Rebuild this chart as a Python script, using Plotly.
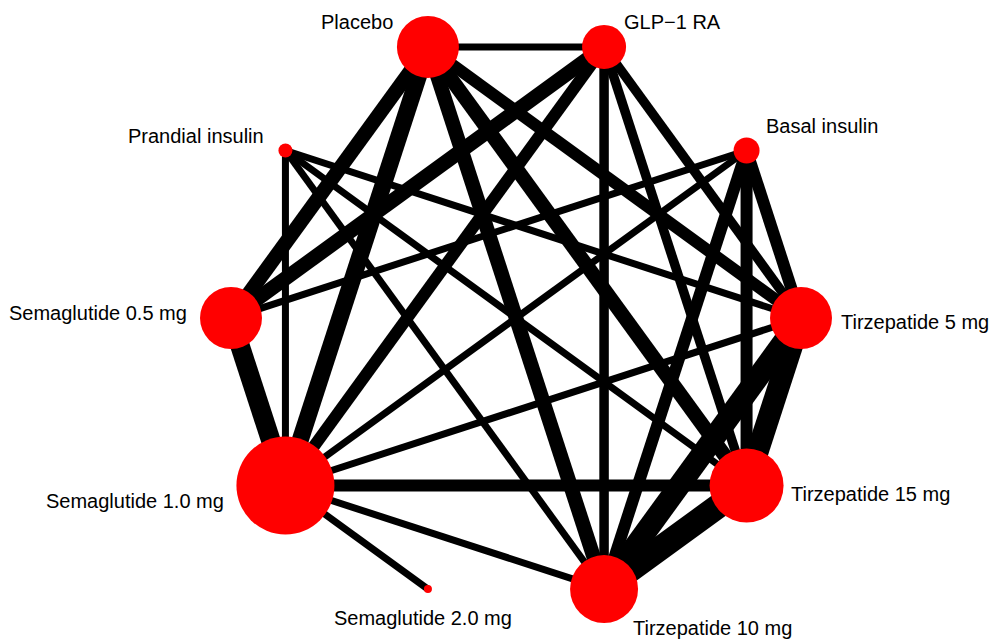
import math
import plotly.graph_objects as go

# Treatments, in order around the circle (starting at the top left, clockwise)
treatments = [
    "Placebo",
    "GLP\u22121 RA",
    "Basal insulin",
    "Tirzepatide 5 mg",
    "Tirzepatide 15 mg",
    "Tirzepatide 10 mg",
    "Semaglutide 2.0 mg",
    "Semaglutide 1.0 mg",
    "Semaglutide 0.5 mg",
    "Prandial insulin",
]

# Relative node weight (drives the point size)
node_weight = [3.1, 2.2, 1.3, 3.1, 3.7, 3.4, 0.4, 4.9, 3.1, 0.7]

# Direct comparisons and their number of studies
edge_from = [
    "Placebo", "Placebo", "Placebo", "Placebo", "Placebo", "Placebo",
    "GLP\u22121 RA", "GLP\u22121 RA", "GLP\u22121 RA", "GLP\u22121 RA", "GLP\u22121 RA",
    "Basal insulin", "Basal insulin", "Basal insulin", "Basal insulin", "Basal insulin",
    "Prandial insulin", "Prandial insulin", "Prandial insulin", "Prandial insulin",
    "Semaglutide 0.5 mg",
    "Semaglutide 1.0 mg", "Semaglutide 1.0 mg", "Semaglutide 1.0 mg", "Semaglutide 1.0 mg",
    "Tirzepatide 5 mg", "Tirzepatide 5 mg", "Tirzepatide 15 mg",
]
edge_to = [
    "GLP\u22121 RA", "Semaglutide 0.5 mg", "Semaglutide 1.0 mg", "Tirzepatide 5 mg",
    "Tirzepatide 15 mg", "Tirzepatide 10 mg",
    "Semaglutide 0.5 mg", "Semaglutide 1.0 mg", "Tirzepatide 10 mg", "Tirzepatide 15 mg",
    "Tirzepatide 5 mg",
    "Tirzepatide 5 mg", "Tirzepatide 15 mg", "Tirzepatide 10 mg", "Semaglutide 0.5 mg",
    "Semaglutide 1.0 mg",
    "Semaglutide 1.0 mg", "Tirzepatide 5 mg", "Tirzepatide 15 mg", "Tirzepatide 10 mg",
    "Semaglutide 1.0 mg",
    "Tirzepatide 5 mg", "Tirzepatide 15 mg", "Tirzepatide 10 mg", "Semaglutide 2.0 mg",
    "Tirzepatide 15 mg", "Tirzepatide 10 mg", "Tirzepatide 10 mg",
]
n_studies = [
    1, 4, 5, 3, 4, 4,
    4, 3, 2, 2, 2,
    3, 3, 3, 1, 1,
    1, 1, 1, 1,
    6,
    1, 3, 1, 1,
    7, 7, 8,
]

# Circular layout
pos = {}
for i, name in enumerate(treatments):
    ang = math.radians(108 - 36 * i)
    pos[name] = (math.cos(ang), math.sin(ang))

fig = go.Figure()

# Edges: width grows with the number of studies
for a, b, k in zip(edge_from, edge_to, n_studies):
    (x0, y0), (x1, y1) = pos[a], pos[b]
    fig.add_trace(go.Scatter(
        x=[x0, x1], y=[y0, y1], mode="lines",
        line=dict(color="black", width=7 + 2.5 * (k - 1)),
        hoverinfo="skip", showlegend=False,
    ))

# Nodes
fig.add_trace(go.Scatter(
    x=[pos[t][0] for t in treatments],
    y=[pos[t][1] for t in treatments],
    mode="markers",
    marker=dict(color="#FF0000", opacity=1, size=[20 * w for w in node_weight],
                line=dict(width=0)),
    text=treatments, hoverinfo="text", showlegend=False,
))

# Label placement around each node: (xanchor, xshift, yshift)
label_style = {
    "Placebo": ("right", -33, 25),
    "GLP\u22121 RA": ("left", 18, 25),
    "Basal insulin": ("left", 17, 24),
    "Tirzepatide 5 mg": ("left", 38, -4),
    "Tirzepatide 15 mg": ("left", 42, -8),
    "Tirzepatide 10 mg": ("left", 27, -39),
    "Semaglutide 2.0 mg": ("center", -5, -29),
    "Semaglutide 1.0 mg": ("right", -59, -15),
    "Semaglutide 0.5 mg": ("right", -42, 5),
    "Prandial insulin": ("right", -19, 14),
}
for t in treatments:
    xa, xs, ys = label_style[t]
    fig.add_annotation(
        x=pos[t][0], y=pos[t][1], text=t, showarrow=False,
        xanchor=xa, yanchor="middle", xshift=xs, yshift=ys,
        font=dict(family="Liberation Sans, Arial, sans-serif", size=20, color="black"),
    )

R = 285.0
W, H = 992, 639
cx, cy = 516, 318
fig.update_layout(
    width=W, height=H,
    margin=dict(l=0, r=0, t=0, b=0),
    paper_bgcolor="white", plot_bgcolor="white",
    xaxis=dict(range=[-cx / R, (W - cx) / R], visible=False, fixedrange=True),
    yaxis=dict(range=[-(H - cy) / R, cy / R], visible=False, fixedrange=True),
)

fig.write_html("out.html")
